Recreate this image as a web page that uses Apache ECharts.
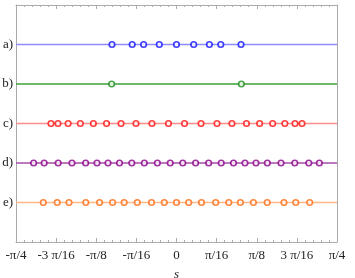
<!DOCTYPE html>
<html><head><meta charset="utf-8">
<script src="https://cdn.jsdelivr.net/npm/echarts@6/dist/echarts.min.js"></script>
<style>html,body{margin:0;padding:0;background:#fff}#c{width:355px;height:278px}</style>
</head><body><div id="c"></div>
<script>
// x values are in units of pi (s/pi)
const rowLabels = ['a)', 'b)', 'c)', 'd)', 'e)'];
const rowLevels = [5, 4, 3, 2, 1];
const tickLabels = ['-\u03c0/4', '-3 \u03c0/16', '-\u03c0/8', '-\u03c0/16', '0', '\u03c0/16', '\u03c0/8', '3 \u03c0/16', '\u03c0/4'];
const seriesA = [-0.1005, -0.069, -0.0512, -0.0268, 0, 0.0268, 0.0512, 0.069, 0.1005];
const seriesB = [-0.101, 0.101];
const seriesC = [-0.1955, -0.1846, -0.1688, -0.1498, -0.1295, -0.109, -0.0864, -0.0631, -0.0382, -0.0125,
                 0.0125, 0.0382, 0.0631, 0.0864, 0.109, 0.1295, 0.1498, 0.1688, 0.1846, 0.1955];
const seriesD = [-0.2225, -0.2061, -0.1843, -0.1628, -0.1415, -0.1238, -0.1067, -0.0888, -0.0696, -0.0501, -0.0298, -0.0098,
                 0.0098, 0.0298, 0.0501, 0.0696, 0.0888, 0.1067, 0.1238, 0.1415, 0.1628, 0.1843, 0.2061, 0.2225];
const seriesE = [-0.2075, -0.1858, -0.1674, -0.1413, -0.1198, -0.0995, -0.0815, -0.0611, -0.0389, -0.019, 0,
                 0.019, 0.0389, 0.0611, 0.0815, 0.0995, 0.1198, 0.1413, 0.1674, 0.1858, 0.2075];
const allSeries = [seriesA, seriesB, seriesC, seriesD, seriesE];
const markerColors = ['#1010ff', '#1f8f1f', '#ff1010', '#880088', '#ff6a10'];
const lineColors = ['#8c8cff', '#3aa03a', '#ff8c8c', '#a84ca8', '#ffb888'];

const XMIN = -0.25, XMAX = 0.25, XSTEP = 0.0625;
const font = '"Liberation Serif", "DejaVu Serif", serif';

function xLabel(v) {
  const i = Math.round((v - XMIN) / XSTEP);
  return tickLabels[i] !== undefined ? tickLabels[i] : '';
}

const series = [];
allSeries.forEach((vals, k) => {
  const y = rowLevels[k];
  series.push({
    type: 'line', data: [[XMIN, y], [XMAX, y]], showSymbol: false, symbol: 'none',
    lineStyle: { color: lineColors[k], width: 1.6 }, silent: true, z: 2
  });
  series.push({
    type: 'scatter', data: vals.map(v => [v, y]), symbol: 'circle', symbolSize: 5.5,
    itemStyle: { color: '#ffffff', borderColor: markerColors[k], borderWidth: 1.7 }, z: 3
  });
});

const axisLine = { show: true, onZero: false, lineStyle: { color: '#aaaaaa', width: 1 } };
const chart = echarts.init(document.getElementById('c'), null, { renderer: 'canvas' });
chart.setOption({
  animation: false,
  grid: { left: 16, right: 18, top: 5, bottom: 36, containLabel: false, outerBoundsMode: 'none' },
  xAxis: [{
    type: 'value', min: XMIN, max: XMAX, interval: XSTEP, position: 'bottom',
    name: 's', nameLocation: 'middle', nameGap: 26,
    nameTextStyle: { fontFamily: font, fontStyle: 'italic', fontSize: 13, color: '#222' },
    axisLine: axisLine,
    axisTick: { show: true, inside: true, length: 4, lineStyle: { color: '#aaaaaa' } },
    minorTick: { show: true, splitNumber: 5, length: 2, lineStyle: { color: '#aaaaaa' } },
    splitLine: { show: false },
    axisLabel: { fontFamily: font, fontSize: 13, color: '#222', margin: 7, formatter: xLabel, showMinLabel: true, showMaxLabel: true }
  }, {
    type: 'value', min: XMIN, max: XMAX, interval: XSTEP, position: 'top',
    axisLine: axisLine,
    axisTick: { show: true, inside: true, length: 4, lineStyle: { color: '#aaaaaa' } },
    minorTick: { show: true, splitNumber: 5, length: 2, lineStyle: { color: '#aaaaaa' } },
    splitLine: { show: false }, axisLabel: { show: false }
  }],
  yAxis: [{
    type: 'value', min: 0, max: 6, interval: 1, position: 'left',
    axisLine: axisLine,
    axisTick: { show: false }, splitLine: { show: false },
    axisLabel: {
      fontFamily: font, fontSize: 13, color: '#222', margin: 3,
      formatter: v => { const i = rowLevels.indexOf(Math.round(v)); return i >= 0 ? rowLabels[i] : ''; }
    }
  }, {
    type: 'value', min: 0, max: 6, interval: 1, position: 'right',
    axisLine: axisLine,
    axisTick: { show: false }, splitLine: { show: false }, axisLabel: { show: false }
  }],
  series: series
});
</script></body></html>
